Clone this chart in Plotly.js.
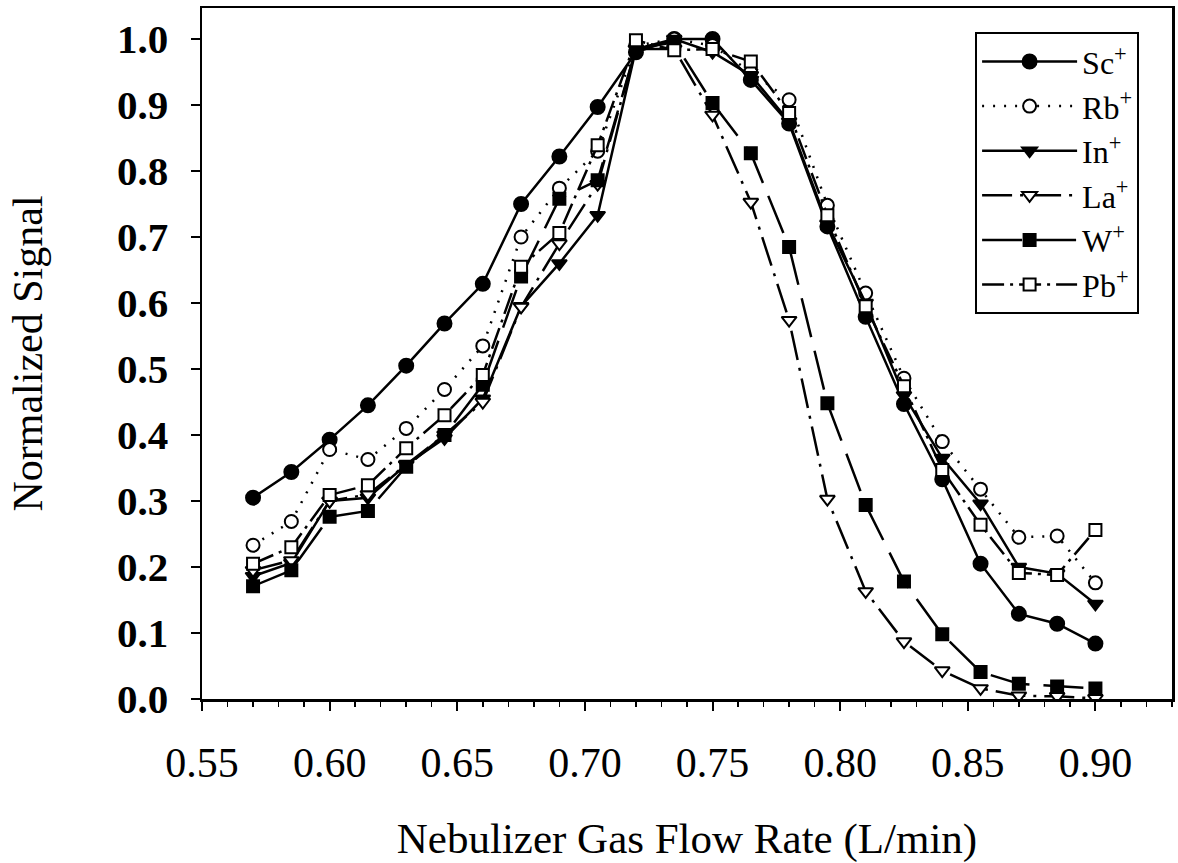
<!DOCTYPE html>
<html>
<head>
<meta charset="utf-8">
<script src="https://cdn.plot.ly/plotly-3.0.1.min.js"></script>
<style>html,body{margin:0;padding:0;background:#fff;}#chart{width:1178px;height:863px;}</style>
</head>
<body>
<div id="chart"></div>
<script>
const flowRate = [0.57,0.585,0.60,0.615,0.63,0.645,0.66,0.675,0.69,0.705,0.72,0.735,0.75,0.765,0.78,0.795,0.81,0.825,0.84,0.855,0.87,0.885,0.90];
const sc = [0.305,0.344,0.393,0.445,0.505,0.569,0.629,0.750,0.822,0.897,0.980,1.000,1.000,0.938,0.872,0.716,0.579,0.447,0.333,0.205,0.129,0.114,0.084];
const rb = [0.233,0.269,0.378,0.363,0.410,0.469,0.535,0.700,0.774,0.830,0.990,1.000,0.990,0.950,0.908,0.748,0.615,0.486,0.390,0.318,0.245,0.247,0.176];
const inn = [0.186,0.206,0.300,0.305,0.355,0.395,0.455,0.595,0.660,0.733,0.985,1.000,0.980,0.945,0.875,0.720,0.600,0.460,0.365,0.296,0.200,0.190,0.144];
const la = [0.195,0.210,0.300,0.310,0.355,0.400,0.450,0.594,0.690,0.780,0.985,0.985,0.885,0.753,0.574,0.303,0.163,0.087,0.043,0.016,0.005,0.004,0.001];
const w = [0.171,0.195,0.276,0.285,0.352,0.400,0.476,0.640,0.758,0.786,0.985,0.995,0.903,0.827,0.685,0.448,0.294,0.178,0.098,0.041,0.023,0.019,0.016];
const pb = [0.205,0.230,0.309,0.324,0.380,0.430,0.491,0.655,0.706,0.839,0.998,0.983,0.985,0.966,0.888,0.733,0.595,0.474,0.347,0.264,0.191,0.188,0.256];
const seriesNames = ['Sc<sup>+</sup>','Rb<sup>+</sup>','In<sup>+</sup>','La<sup>+</sup>','W<sup>+</sup>','Pb<sup>+</sup>'];
const yTickVals = [0,0.1,0.2,0.3,0.4,0.5,0.6,0.7,0.8,0.9,1.0];
const yTickText = ['0.0','0.1','0.2','0.3','0.4','0.5','0.6','0.7','0.8','0.9','1.0'];
const xTickVals = [0.55,0.60,0.65,0.70,0.75,0.80,0.85,0.90];
const xTickText = ['0.55','0.60','0.65','0.70','0.75','0.80','0.85','0.90'];

const styles = [
  {dash:'solid', symbol:'circle', fill:'black', size:14},
  {dash:'2px,9px', symbol:'circle', fill:'white', size:13},
  {dash:'solid', symbol:'triangle-down', fill:'black', size:13},
  {dash:'30px,8px,3px,8px', symbol:'triangle-down', fill:'white', size:13},
  {dash:'40px,14px', symbol:'square', fill:'black', size:12},
  {dash:'22px,6px,3px,6px', symbol:'square', fill:'white', size:12}
];
const ys = [sc, rb, inn, la, w, pb];
const traces = ys.map((y,i)=>({
  x: flowRate, y: y, name: seriesNames[i], type:'scatter', mode:'lines+markers',
  line:{color:'black', width:2.5, dash:styles[i].dash},
  marker:{symbol:styles[i].symbol, size:styles[i].size, color:styles[i].fill, line:{color:'black', width:2}}
}));

const serif = 'Liberation Serif, Times New Roman, serif';
const layout = {
  width:1178, height:863,
  margin:{l:202, r:6, t:8, b:164},
  paper_bgcolor:'white', plot_bgcolor:'white',
  font:{family:serif, color:'black'},
  showlegend:true,
  legend:{x:0.797, y:0.965, xanchor:'left', yanchor:'top', bgcolor:'white', bordercolor:'black', borderwidth:2,
    font:{family:serif, size:32, color:'black'}, itemwidth:95, tracegroupgap:0},
  xaxis:{range:[0.55,0.930], tickvals:xTickVals, ticktext:xTickText, ticks:'outside', ticklen:9, tickwidth:2, tickcolor:'black',
    showline:true, linecolor:'black', linewidth:2.5, mirror:true, showgrid:false, zeroline:false,
    ticklabelstandoff:16,
    tickfont:{family:serif, size:42, color:'black'},
    minor:{dtick:0.01, tick0:0.55, ticks:'outside', ticklen:5, tickwidth:1.5, tickcolor:'black', showgrid:false},
    title:{text:'Nebulizer Gas Flow Rate (L/min)', font:{family:serif, size:43, color:'black'}, standoff:40}},
  yaxis:{range:[0,1.047], tickvals:yTickVals, ticktext:yTickText, ticks:'outside', ticklen:9, tickwidth:2, tickcolor:'black',
    showline:true, linecolor:'black', linewidth:2.5, mirror:true, showgrid:false, zeroline:false,
    ticklabelstandoff:14,
    tickfont:{family:serif, size:41, color:'black', weight:'bold'},
    title:{text:'Normalized Signal', font:{family:serif, size:42, color:'black'}, standoff:62}}
};
Plotly.newPlot('chart', traces, layout, {displayModeBar:false, staticPlot:true});
</script>
</body>
</html>
